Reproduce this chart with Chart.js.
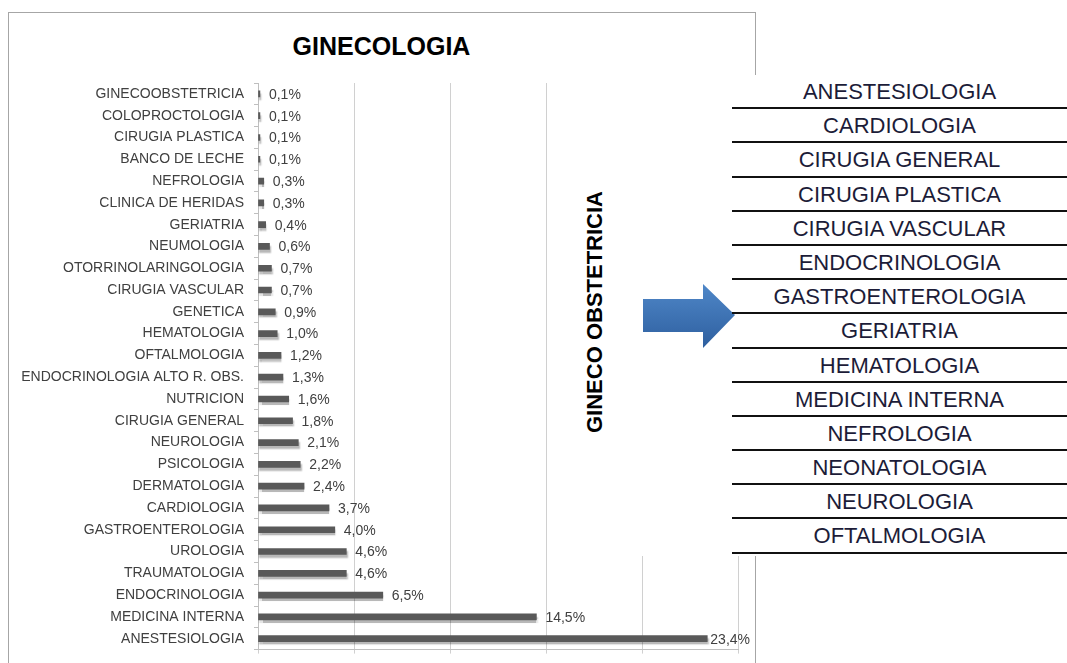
<!DOCTYPE html>
<html>
<head>
<meta charset="utf-8">
<script src="https://cdn.jsdelivr.net/npm/chart.js@4.4.1/dist/chart.umd.min.js"></script>
<style>
  body { margin: 0; width: 1067px; height: 663px; overflow: hidden; background: #fff; position: relative; font-family: "Liberation Sans", Arial, sans-serif; }
  #frame { position: absolute; left: 8px; top: 12px; width: 746px; height: 700px; border: 1px solid #a6a6a6; }
  #title { position: absolute; left: 9px; top: 32px; width: 745px; text-align: center; font: bold 25px "Liberation Sans", Arial, sans-serif; color: #000; }
  #box { position: absolute; left: 9px; top: 13px; width: 745px; height: 655px; }
  #cover { position: absolute; left: 560px; top: 75px; width: 507px; height: 481px; background: #fff; }
  #side { position: absolute; left: 595px; top: 312px; transform: translate(-50%, -50%) rotate(-90deg); font: bold 22px "Liberation Sans", Arial, sans-serif; color: #000; white-space: nowrap; }
  #arrow { position: absolute; left: 643px; top: 284px; }
  #list { position: absolute; left: 732px; top: 75px; width: 335px; }
  #list div { height: 32.2px; line-height: 34px; border-bottom: 2px solid #111; text-align: center; font-size: 22px; color: #1c1c38; }
</style>
</head>
<body>
<div id="frame"></div>
<div id="title">GINECOLOGIA</div>
<div id="box"><canvas id="chart"></canvas></div>
<div id="cover"></div>
<div id="side">GINECO OBSTETRICIA</div>
<svg id="arrow" width="94" height="66">
  <defs>
    <linearGradient id="g" x1="0" y1="0" x2="0" y2="1">
      <stop offset="0" stop-color="#4f87c8"/>
      <stop offset="1" stop-color="#2e5f9f"/>
    </linearGradient>
  </defs>
  <polygon points="0,15 60,15 60,0 92,31 60,64 60,48 0,48" fill="url(#g)"/>
</svg>
<div id="list"></div>
<script>
// chart data (top to bottom, as drawn)
const categories = [
  'GINECOOBSTETRICIA', 'COLOPROCTOLOGIA', 'CIRUGIA PLASTICA', 'BANCO DE LECHE',
  'NEFROLOGIA', 'CLINICA DE HERIDAS', 'GERIATRIA', 'NEUMOLOGIA',
  'OTORRINOLARINGOLOGIA', 'CIRUGIA VASCULAR', 'GENETICA', 'HEMATOLOGIA',
  'OFTALMOLOGIA', 'ENDOCRINOLOGIA ALTO R. OBS.', 'NUTRICION', 'CIRUGIA GENERAL',
  'NEUROLOGIA', 'PSICOLOGIA', 'DERMATOLOGIA', 'CARDIOLOGIA',
  'GASTROENTEROLOGIA', 'UROLOGIA', 'TRAUMATOLOGIA', 'ENDOCRINOLOGIA',
  'MEDICINA INTERNA', 'ANESTESIOLOGIA'
];
const percentages = [
  0.1, 0.1, 0.1, 0.1, 0.3, 0.3, 0.4, 0.6, 0.7, 0.7, 0.9, 1.0, 1.2, 1.3,
  1.6, 1.8, 2.1, 2.2, 2.4, 3.7, 4.0, 4.6, 4.6, 6.5, 14.5, 23.4
];
const xTicks = [0, 5, 10, 15, 20, 25];
const sideList = [
  'ANESTESIOLOGIA', 'CARDIOLOGIA', 'CIRUGIA GENERAL', 'CIRUGIA PLASTICA',
  'CIRUGIA VASCULAR', 'ENDOCRINOLOGIA', 'GASTROENTEROLOGIA', 'GERIATRIA',
  'HEMATOLOGIA', 'MEDICINA INTERNA', 'NEFROLOGIA', 'NEONATOLOGIA',
  'NEUROLOGIA', 'OFTALMOLOGIA'
];

const list = document.getElementById('list');
sideList.forEach(name => {
  const row = document.createElement('div');
  row.textContent = name;
  list.appendChild(row);
});

const fmt = v => v.toFixed(1).replace('.', ',') + '%';

// shadow under bars + value labels
const barDecor = {
  id: 'barDecor',
  beforeDatasetsDraw(chart) {
    const c = chart.ctx;
    c.save();
    c.shadowColor = 'rgba(0,0,0,0.28)';
    c.shadowOffsetX = 1;
    c.shadowOffsetY = 3;
    c.shadowBlur = 1.5;
  },
  afterDatasetsDraw(chart) {
    const c = chart.ctx;
    c.restore();
    c.save();
    c.font = '14px "Liberation Sans", Arial, sans-serif';
    c.fillStyle = '#404040';
    c.textBaseline = 'middle';
    chart.getDatasetMeta(0).data.forEach((bar, i) => {
      const txt = fmt(percentages[i]);
      const w = c.measureText(txt).width;
      const x = Math.min(bar.x + 9, chart.width - 4 - w);
      c.fillText(txt, x, bar.y + 1);
    });
    c.restore();
  }
};

new Chart(document.getElementById('chart'), {
  type: 'bar',
  data: {
    labels: categories,
    datasets: [{
      data: percentages,
      backgroundColor: '#595959',
      barThickness: 6
    }]
  },
  options: {
    indexAxis: 'y',
    responsive: true,
    maintainAspectRatio: false,
    animation: false,
    layout: { padding: { top: 70, right: 16, bottom: 0, left: 0 } },
    plugins: { legend: { display: false }, tooltip: { enabled: false } },
    scales: {
      x: {
        min: 0,
        max: 25,
        afterBuildTicks: s => { s.ticks = xTicks.map(v => ({ value: v })); },
        ticks: { display: false },
        grid: { color: '#d0d0d0', tickLength: 4 },
        border: { color: '#bfbfbf' },
        afterFit: s => { s.height = 4; }
      },
      y: {
        ticks: { color: '#404040', font: { family: '"Liberation Sans", Arial, sans-serif', size: 14 }, padding: 10, autoSkip: false },
        grid: { drawOnChartArea: false, tickLength: 4, color: '#bfbfbf' },
        border: { color: '#bfbfbf' },
        afterFit: s => { s.width = 249; }
      }
    }
  },
  plugins: [barDecor]
});
</script>
</body>
</html>
